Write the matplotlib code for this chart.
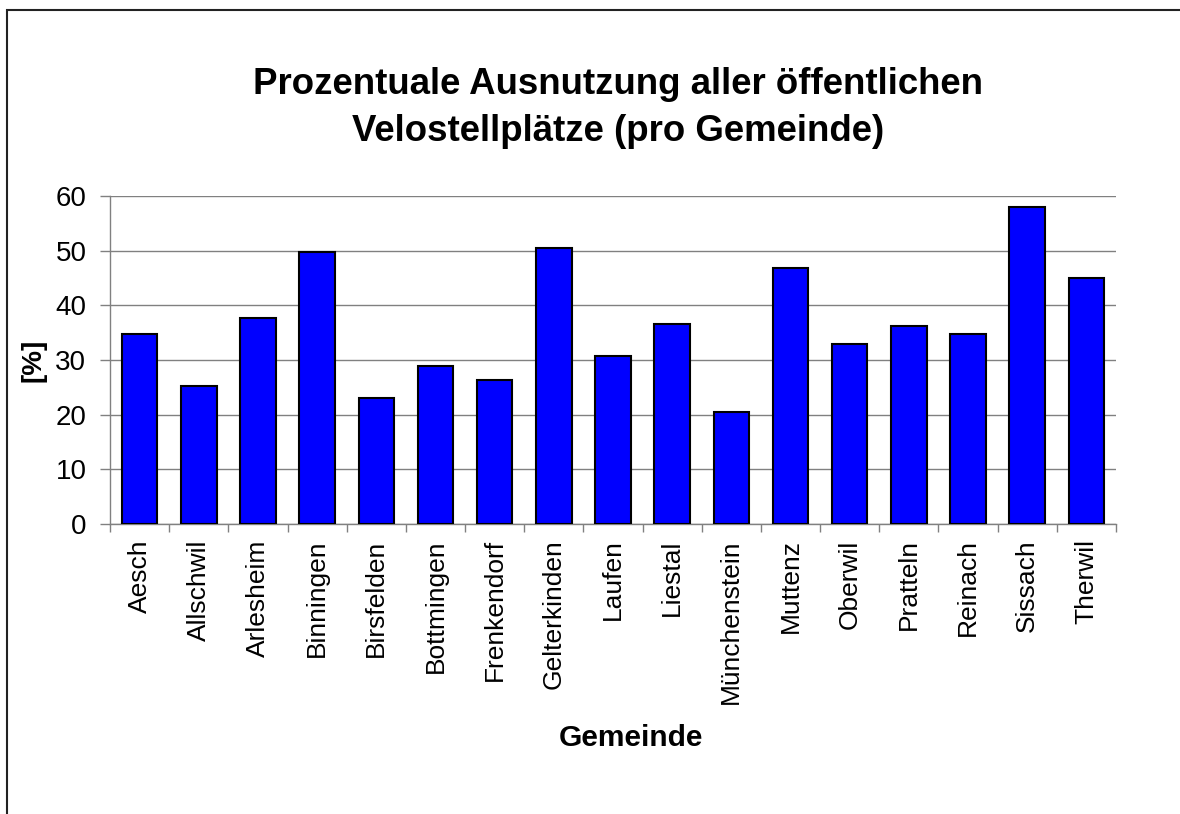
import matplotlib
matplotlib.use('Agg')
import matplotlib.pyplot as plt
from matplotlib.patches import Rectangle
import numpy as np

plt.rcParams['font.family'] = ['Liberation Sans', 'DejaVu Sans']

# data
gemeinden = ['Aesch', 'Allschwil', 'Arlesheim', 'Binningen', 'Birsfelden',
             'Bottmingen', 'Frenkendorf', 'Gelterkinden', 'Laufen', 'Liestal',
             'Münchenstein', 'Muttenz', 'Oberwil', 'Pratteln', 'Reinach',
             'Sissach', 'Therwil']
ausnutzung = [34.7, 25.2, 37.7, 49.8, 23.0, 28.9, 26.3, 50.5, 30.8, 36.6,
              20.5, 46.8, 33.0, 36.3, 34.7, 57.9, 45.0]
y_ticks = [0, 10, 20, 30, 40, 50, 60]

W, H = 1180, 814
fig = plt.figure(figsize=(W / 100, H / 100), dpi=100)

# outer frame (runs off the right/bottom edge like in the original)
fig.patches.append(Rectangle((7 / W, -0.05), 1.2, 1 - 10 / H + 0.05,
                             transform=fig.transFigure, fill=False,
                             edgecolor='#222222', lw=1.5))

ax = fig.add_axes([110 / W, 1 - 524 / H, (1116 - 110) / W, (524 - 196) / H])

x = np.arange(len(gemeinden))
ax.bar(x, ausnutzung, width=0.6, color='#0000FF', edgecolor='black',
       linewidth=1.5, zorder=3)

ax.set_xlim(-0.5, len(gemeinden) - 0.5)
ax.set_ylim(0, 60)
ax.set_yticks(y_ticks)
ax.yaxis.grid(True, color='#808080', lw=1, zorder=0)

ax.set_xticks(x)
ax.set_xticklabels(gemeinden, rotation=90, fontsize=19)
ax.set_xticks(np.arange(-0.5, len(gemeinden)), minor=True)
ax.tick_params(axis='x', which='major', length=0, pad=11)
ax.tick_params(axis='x', which='minor', length=6, color='#808080', width=1)
ax.tick_params(axis='y', length=7, color='#808080', width=1, labelsize=20, pad=10)

for s in ['top', 'right']:
    ax.spines[s].set_visible(False)
for s in ['left', 'bottom']:
    ax.spines[s].set_color('#808080')
    ax.spines[s].set_linewidth(1)

fig.text(618 / W, 1 - 108 / H,
         'Prozentuale Ausnutzung aller öffentlichen\nVelostellplätze (pro Gemeinde)',
         ha='center', va='center', fontsize=26.4, fontweight='bold', linespacing=1.45)
fig.text(631 / W, 1 - 738 / H, 'Gemeinde', ha='center', va='center',
         fontsize=21.5, fontweight='bold')
fig.text(34 / W, 1 - 360 / H, '[%]', ha='center', va='center', rotation=90,
         fontsize=20, fontweight='bold')

fig.savefig('out.png', dpi=100, facecolor='white')
